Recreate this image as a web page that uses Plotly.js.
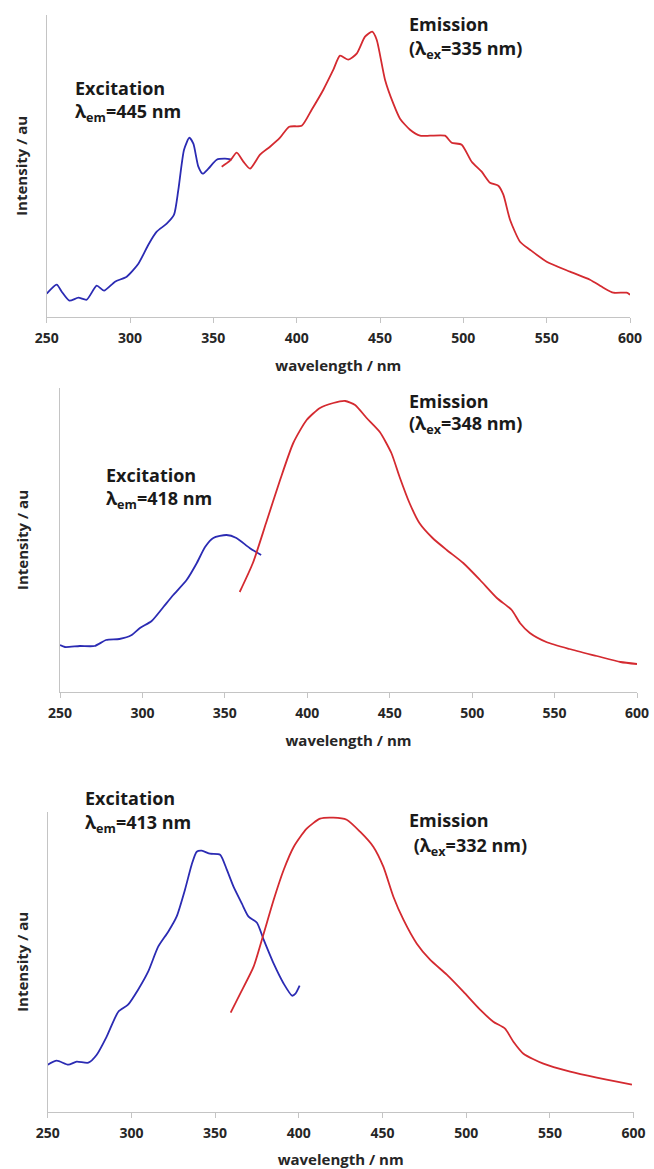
<!DOCTYPE html>
<html><head><meta charset="utf-8">
<script src="https://cdn.plot.ly/plotly-3.0.1.min.js"></script>
<style>html,body{margin:0;padding:0;background:#fff}#chart{width:654px;height:1169px}</style>
</head><body><div id="chart"></div>
<script>
// ---- tick labels ----
const tickVals = [250,300,350,400,450,500,550,600];

// ---- Panel 1 ----
const ex1_wl  = [250,256,259,263.6,269,274,280,284.4,291,298,305,311,316,322,326.4,329,332.4,335.6,338,341,343.6,347,352,357,361];
const ex1_int = [23,32,25,16,19,17,31,26,35,40,53,72,85,93,102,127,167,179,173,150,143,148,157,158,157];
const em1_wl  = [355,360,364,368,372,378,384,390,395.5,403,409,416,422,426,431,436,441,445.3,448,453,458,462,468,474,480,489,493,499,505,511,516,521,524,528,534,540,550,564,576,584,590,598,600];
const em1_int = [150,156,164,155,148,162,170,179,190,191,207,227,247,261,257,263,280,285,277,237,213,198,187,181,181,181,174,172,155,145,134,131,122,97,75,67,55,45,37,29,24,24,22];

// ---- Panel 2 ----
const ex2_wl  = [250,253,262,271,278,286,293.5,298.5,305.6,312.7,318.7,326.8,333,338,343,351,357,365,372];
const ex2_int = [47,45,46,46,52,53,57,64,71,85,97,112,129,145,154,157,154,144,137];
const em2_wl  = [359,367,375,383.5,391.5,399.6,407.7,415.8,423,429,436,444,451,456,462,468,476,484.6,494.6,504.8,515,524,529,535,545,559,575.6,590,600];
const em2_int = [100,129,169,212,249,272,284,289,291,287,274,260,239,215,189,169,154,142,129,112,94,82,69,59,50,43,36,30,28];

// ---- Panel 3 ----
const ex3_wl  = [250,255.4,262.3,267.3,274.3,279.3,285.2,292.2,298,304,310,316,322,327,332,336,339,342,347,353,357,361,366,370,375,379,385,391,396,398,400.5];
const ex3_int = [47,51,47,50,49,57,75,100,107,122,140,165,180,195,222,247,260,261,258,257,242,225,208,195,189,172,148,128,116,118,126];
const em3_wl  = [359.3,365,373,379,385,391,397,404.7,412.7,420.6,428.6,436.6,444.5,450.5,456.5,462.5,470.5,478.4,488.4,498.3,508.3,516.2,523.2,528.2,534.2,546.1,562.1,578,590,599];
const em3_int = [99,118,145,178,212,242,265,283,293,294,292,280,265,245,215,192,168,152,137,120,102,90,83,70,58,48,40,34,30,27];

// ---- labels ----
const exLabels = ['Excitation','Excitation','Excitation'];
const exSub = ['λ<sub>em</sub>=445 nm','λ<sub>em</sub>=418 nm','λ<sub>em</sub>=413 nm'];
const emLabels = ['Emission','Emission','Emission'];
const emSub = ['(λ<sub>ex</sub>=335 nm)','(λ<sub>ex</sub>=348 nm)',' (λ<sub>ex</sub>=332 nm)'];

const W = 654, H = 1169;
const fx = x => x / W, fy = y => 1 - y / H;
const panels = [
  {x0:46.7, x1:630,   top:15,  bot:316.7, exPos:[73,88,113],  emPos:[407,24,49]},
  {x0:60,   x1:637,   top:388, bot:692,   exPos:[104,475,499], emPos:[407,401,425]},
  {x0:47.7, x1:633.6, top:812, bot:1111.7, exPos:[83,798,823], emPos:[407,820,846]}
];
const series = [[ex1_wl,ex1_int,em1_wl,em1_int],[ex2_wl,ex2_int,em2_wl,em2_int],[ex3_wl,ex3_int,em3_wl,em3_int]];
const BLUE = '#2b2bb3', RED = '#d42a30';
const FONT = 'Open Sans';

const traces = [], annotations = [];
const layout = {
  width: W, height: H, margin:{l:0,r:0,t:0,b:0},
  paper_bgcolor:'#fff', plot_bgcolor:'#fff', showlegend:false,
  font:{family:FONT, color:'#262626', size:14}
};
panels.forEach((p,i) => {
  const s = i === 0 ? '' : String(i+1);
  const [exw, exi, emw, emi] = series[i];
  traces.push({x:exw, y:exi, type:'scatter', mode:'lines', xaxis:'x'+s, yaxis:'y'+s,
    line:{color:BLUE, width:1.8, shape:'spline', smoothing:0.6}, name:'Excitation'});
  traces.push({x:emw, y:emi, type:'scatter', mode:'lines', xaxis:'x'+s, yaxis:'y'+s,
    line:{color:RED, width:1.8, shape:'spline', smoothing:0.6}, name:'Emission'});
  layout['xaxis'+s] = {
    domain:[fx(p.x0), fx(p.x1)], range:[250,600], anchor:'y'+s,
    tickvals:tickVals, ticktext:tickVals.map(String),
    showline:true, linecolor:'#c4c4c4', linewidth:1, mirror:false,
    ticks:'outside', ticklen:5, tickcolor:'#c4c4c4', showgrid:false, zeroline:false,
    tickfont:{family:FONT, size:14, color:'#262626', weight:'bold'},
    ticklabelstandoff:3, automargin:false,
    title:{text:'wavelength / nm', font:{family:FONT, size:15, color:'#262626', weight:'bold'}, standoff:14}
  };
  layout['yaxis'+s] = {
    domain:[fy(p.bot), fy(p.top)], range:[0, p.bot - p.top], anchor:'x'+s,
    showline:true, linecolor:'#c4c4c4', linewidth:1,
    showticklabels:false, ticks:'', showgrid:false, zeroline:false, automargin:false,
    title:{text:'Intensity / au', font:{family:FONT, size:15, color:'#262626', weight:'bold'}, standoff:i === 1 ? 26 : 14}
  };
  const af = {family:FONT, size:18, color:'#1a1a1a', weight:'bold'};
  annotations.push({xref:'paper', yref:'paper', x:fx(p.exPos[0]), y:fy(p.exPos[1]), xanchor:'left', yanchor:'middle', showarrow:false, text:exLabels[i], font:af});
  annotations.push({xref:'paper', yref:'paper', x:fx(p.exPos[0]), y:fy(p.exPos[2]), xanchor:'left', yanchor:'middle', showarrow:false, text:exSub[i], font:af});
  annotations.push({xref:'paper', yref:'paper', x:fx(p.emPos[0]), y:fy(p.emPos[1]), xanchor:'left', yanchor:'middle', showarrow:false, text:emLabels[i], font:af});
  annotations.push({xref:'paper', yref:'paper', x:fx(p.emPos[0]), y:fy(p.emPos[2]), xanchor:'left', yanchor:'middle', showarrow:false, text:emSub[i], font:af});
});
layout.annotations = annotations;
Plotly.newPlot('chart', traces, layout, {staticPlot:true, displayModeBar:false});
</script>
</body></html>
